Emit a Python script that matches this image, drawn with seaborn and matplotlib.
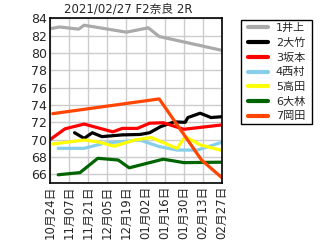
import matplotlib
matplotlib.use("Agg")
import matplotlib.pyplot as plt
import seaborn as sns
import pandas as pd
from matplotlib.patches import Rectangle

title = "2021/02/27 F2奈良 2R"
names = ["1井上", "2大竹", "3坂本", "4西村", "5高田", "6大林", "7岡田"]
colors = ["#aaaaaa", "#000000", "#ff0000", "#87ceeb", "#ffff00", "#006400", "#ff4500"]

inoue_dates = ["2020-10-24", "2020-10-31", "2020-11-14", "2020-11-18", "2020-12-19", "2021-01-04", "2021-01-12", "2021-02-27"]
inoue_vals = [82.8, 83.0, 82.75, 83.2, 82.4, 82.9, 81.9, 80.3]

otake_dates = ["2020-11-11", "2020-11-18", "2020-11-24", "2020-12-01", "2020-12-16", "2020-12-29", "2021-01-05", "2021-01-13", "2021-01-23", "2021-01-31", "2021-02-02", "2021-02-11", "2021-02-19", "2021-02-27"]
otake_vals = [70.8, 70.15, 70.8, 70.35, 70.55, 70.6, 70.8, 71.5, 72.05, 72.0, 72.55, 73.05, 72.55, 72.65]

sakamoto_dates = ["2020-10-24", "2020-11-04", "2020-11-18", "2020-12-09", "2020-12-16", "2020-12-27", "2021-01-05", "2021-01-15", "2021-01-30", "2021-02-27"]
sakamoto_vals = [70.0, 71.25, 71.8, 70.9, 71.3, 71.3, 71.9, 71.95, 71.2, 71.7]

nishimura_dates = ["2020-10-30", "2020-11-18", "2020-12-03", "2020-12-29", "2021-01-12", "2021-01-25", "2021-02-09", "2021-02-27"]
nishimura_vals = [69.0, 69.0, 69.6, 69.95, 69.2, 68.8, 68.8, 69.7]

takada_dates = ["2020-10-26", "2020-11-18", "2020-11-28", "2020-12-10", "2020-12-25", "2021-01-06", "2021-01-25", "2021-01-31", "2021-02-11", "2021-02-27"]
takada_vals = [69.5, 69.95, 69.75, 69.25, 69.95, 70.25, 69.0, 70.35, 69.4, 68.75]

obayashi_dates = ["2020-10-30", "2020-11-15", "2020-11-28", "2020-12-13", "2020-12-21", "2021-01-15", "2021-01-30", "2021-02-27"]
obayashi_vals = [65.95, 66.2, 67.85, 67.65, 66.75, 67.75, 67.35, 67.4]

okada_dates = ["2020-10-26", "2021-01-12", "2021-02-12", "2021-02-27"]
okada_vals = [73.0, 74.7, 67.65, 65.6]

tick_dates = ["2020-10-24", "2020-11-07", "2020-11-21", "2020-12-05", "2020-12-19",
              "2021-01-02", "2021-01-16", "2021-01-30", "2021-02-13", "2021-02-27"]
tick_labels = ["10月24日", "11月07日", "11月21日", "12月05日", "12月19日",
               "01月02日", "01月16日", "01月30日", "02月13日", "02月27日"]
y_ticks = [66, 68, 70, 72, 74, 76, 78, 80, 82, 84]

series = [
    (inoue_dates, inoue_vals), (otake_dates, otake_vals), (sakamoto_dates, sakamoto_vals),
    (nishimura_dates, nishimura_vals), (takada_dates, takada_vals),
    (obayashi_dates, obayashi_vals), (okada_dates, okada_vals),
]
rows = []
for name, (ds, vs) in zip(names, series):
    for d, v in zip(ds, vs):
        rows.append({"date": pd.Timestamp(d), "value": v, "name": name})
df = pd.DataFrame(rows)

sns.set_style("white")
plt.rcParams["font.family"] = ["DejaVu Sans", "Noto Sans CJK JP"]

fig = plt.figure(figsize=(3.2, 2.4), dpi=100)
ax = fig.add_axes([50 / 320, 1 - 183 / 240, 172 / 320, (183 - 18.3) / 240])

sns.lineplot(data=df, x="date", y="value", hue="name", hue_order=names,
             palette=dict(zip(names, colors)), linewidth=2.3, ax=ax,
             estimator=None, sort=True, legend=True)

tdates = [pd.Timestamp(t) for t in tick_dates]
ax.set_xlim(tdates[0], tdates[-1])
ax.set_ylim(65, 84)
ax.set_xticks(tdates)
ax.set_xticklabels(tick_labels, rotation=90, fontsize=8.5, va="top")
ax.set_yticks(y_ticks)
ax.set_yticklabels([str(v) for v in y_ticks], fontsize=9)
ax.set_xlabel("")
ax.set_ylabel("")
ax.grid(True, color="#cccccc", linewidth=1)
ax.set_axisbelow(True)
ax.tick_params(axis="both", direction="in", length=6, width=1, color="black")
ax.tick_params(axis="x", pad=2)
ax.tick_params(axis="y", pad=2)
for s in ax.spines.values():
    s.set_color("black")
    s.set_linewidth(1.2)

handles, labels = ax.get_legend_handles_labels()
ax.get_legend().remove()
leg = fig.legend(handles, labels, loc="upper left",
                 bbox_to_anchor=(248 / 320, 1 - 23 / 240),
                 frameon=False, fontsize=8,
                 handlelength=1.8, handletextpad=0.7, labelspacing=0.42,
                 borderpad=0, borderaxespad=0)
for line in leg.get_lines():
    line.set_linewidth(3)

fig.patches.append(Rectangle((240.7 / 320, 1 - 124 / 240), 71 / 320, 104 / 240,
                             transform=fig.transFigure, fill=False,
                             edgecolor="black", linewidth=1))

fig.text(128 / 320, 1 - 9 / 240, title, ha="center", va="center", fontsize=8.5)

fig.savefig("out.png", dpi=100)
